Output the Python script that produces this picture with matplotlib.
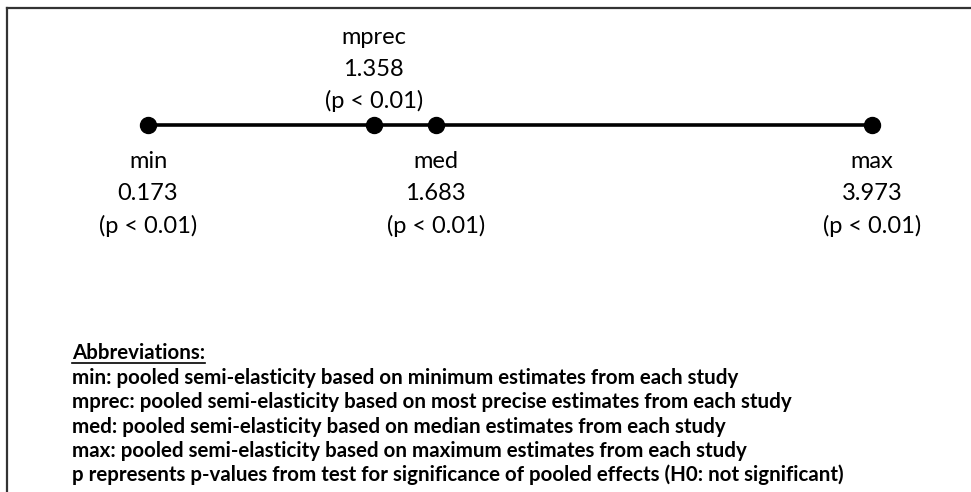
import matplotlib
matplotlib.use("Agg")
import matplotlib.pyplot as plt
from matplotlib.lines import Line2D

# Pooled estimates
names = ["min", "mprec", "med", "max"]
values = [0.173, 1.358, 1.683, 3.973]
pvals = ["(p < 0.01)", "(p < 0.01)", "(p < 0.01)", "(p < 0.01)"]
above = [False, True, False, False]

notes_title = "Abbreviations:"
notes = [
    "min: pooled semi-elasticity based on minimum estimates from each study",
    "mprec: pooled semi-elasticity based on most precise estimates from each study",
    "med: pooled semi-elasticity based on median estimates from each study",
    "max: pooled semi-elasticity based on maximum estimates from each study",
    "p represents p-values from test for significance of pooled effects (H0: not significant)",
]

W, H = 971, 492
fig = plt.figure(figsize=(W / 100, H / 100), dpi=100)
ax = fig.add_axes([0, 0, 1, 1])
ax.set_xlim(-0.604, 4.493)
ax.set_ylim(H, 0)  # y in pixels from top
ax.axis("off")

line_y = 125
ax.plot([min(values), max(values)], [line_y, line_y], color="black", lw=2.6, zorder=1)
ax.plot(values, [line_y] * len(values), "o", color="black", ms=11.5, zorder=2)

font = "Lato"
for n, v, p, up in zip(names, values, pvals, above):
    if up:
        ys = [37, 69, 101]
    else:
        ys = [162, 194, 226]
    for t, yy in zip([n, f"{v:.3f}", p], ys):
        ax.text(v, yy, t, ha="center", va="center", fontsize=17, family=font)

# border (left and top)
fig.add_artist(Line2D([7 / W, 7 / W], [0, 1 - 8 / H], color="#333333", lw=1.6))
fig.add_artist(Line2D([7 / W, 1], [1 - 8 / H, 1 - 8 / H], color="#333333", lw=1.6))

# notes
x0 = 72 / W
t = fig.text(x0, 1 - 353 / H, notes_title, ha="left", va="center",
             fontsize=14.8, fontweight="bold", family=font)
fig.canvas.draw()
bb = t.get_window_extent().transformed(fig.transFigure.inverted())
fig.add_artist(Line2D([bb.x0, bb.x1], [bb.y0, bb.y0], color="black", lw=1.2))
ys = [378, 402, 427, 451, 475]
for s, yy in zip(notes, ys):
    fig.text(x0, 1 - yy / H, s, ha="left", va="center",
             fontsize=14.8, fontweight="bold", family=font)

fig.savefig("out.png", dpi=100)
